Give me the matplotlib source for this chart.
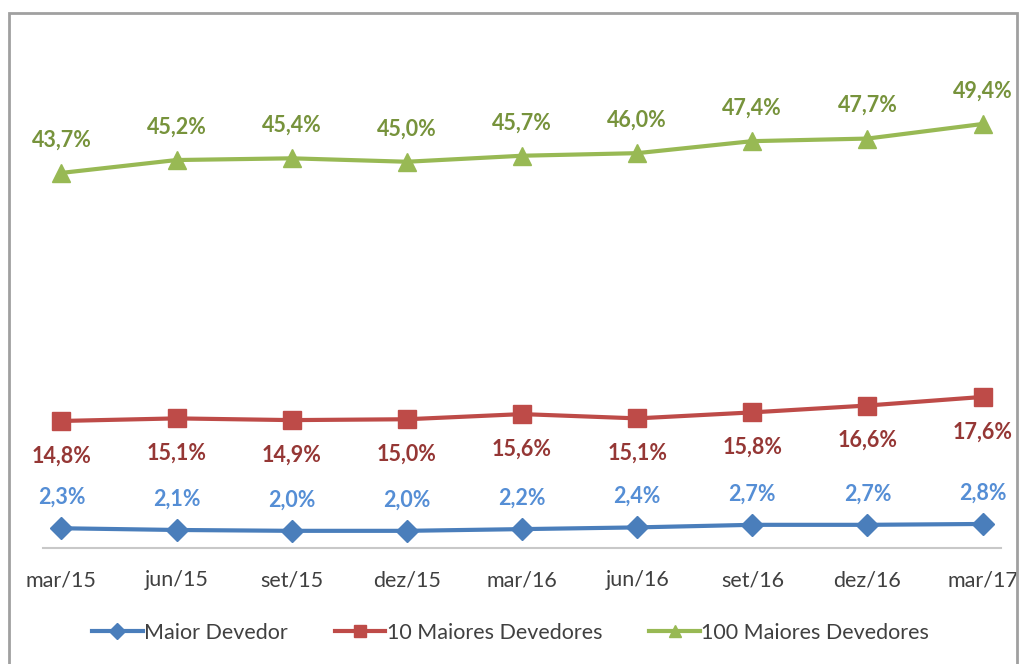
import matplotlib.pyplot as plt
from matplotlib.patches import Rectangle

plt.rcParams['font.family'] = ['Lato', 'DejaVu Sans']

periodos = ["mar/15", "jun/15", "set/15", "dez/15", "mar/16", "jun/16", "set/16", "dez/16", "mar/17"]
maior = [2.3, 2.1, 2.0, 2.0, 2.2, 2.4, 2.7, 2.7, 2.8]
dez_maiores = [14.8, 15.1, 14.9, 15.0, 15.6, 15.1, 15.8, 16.6, 17.6]
cem_maiores = [43.7, 45.2, 45.4, 45.0, 45.7, 46.0, 47.4, 47.7, 49.4]

fig = plt.figure(figsize=(10.21, 6.64), dpi=100)
ax = fig.add_axes([43 / 1021, 1 - 548 / 664, 958 / 1021, 515 / 664])

x = range(len(periodos))
series = [
    (maior, "Maior Devedor", "#4A7EBB", "D", 11, "#558ED5", 31),
    (dez_maiores, "10 Maiores Devedores", "#BE4B48", "s", 13, "#953735", -35),
    (cem_maiores, "100 Maiores Devedores", "#98B954", "^", 13, "#77933C", 33),
]
for vals, nome, cor, mk, ms, cor_txt, dy in series:
    ax.plot(x, vals, color=cor, lw=3, marker=mk, ms=ms, label=nome)
    for xi, v in zip(x, vals):
        ax.annotate(f"{v:.1f}%".replace(".", ","), (xi, v), xytext=(0, dy),
                    textcoords="offset pixels", ha="center", va="center",
                    fontsize=15.5, fontweight="bold", color=cor_txt)

ax.set_xlim(-0.16, 8.16)
ax.set_ylim(0, 60)
ax.set_yticks([])
ax.set_xticks(list(x))
ax.set_xticklabels(periodos, fontsize=15.5, color="#404040")
ax.tick_params(axis="x", length=0, pad=16)
for s in ["top", "left", "right"]:
    ax.spines[s].set_visible(False)
ax.spines["bottom"].set_color("#C8C8C8")
ax.spines["bottom"].set_linewidth(1.5)

ax.legend(loc="center", bbox_to_anchor=(0.5, 1 - 633 / 664), bbox_transform=fig.transFigure,
          ncol=3, frameon=False, fontsize=15.5, handlelength=2.35, columnspacing=2.2,
          handletextpad=0.05, labelcolor="#404040", markerscale=0.7)

fig.patches.append(Rectangle((9 / 1021, -0.05), 1008 / 1021, 1.05 - 13 / 664,
                             transform=fig.transFigure, fill=False, ec="#A0A0A0", lw=2))

fig.savefig("out.png", dpi=100)
